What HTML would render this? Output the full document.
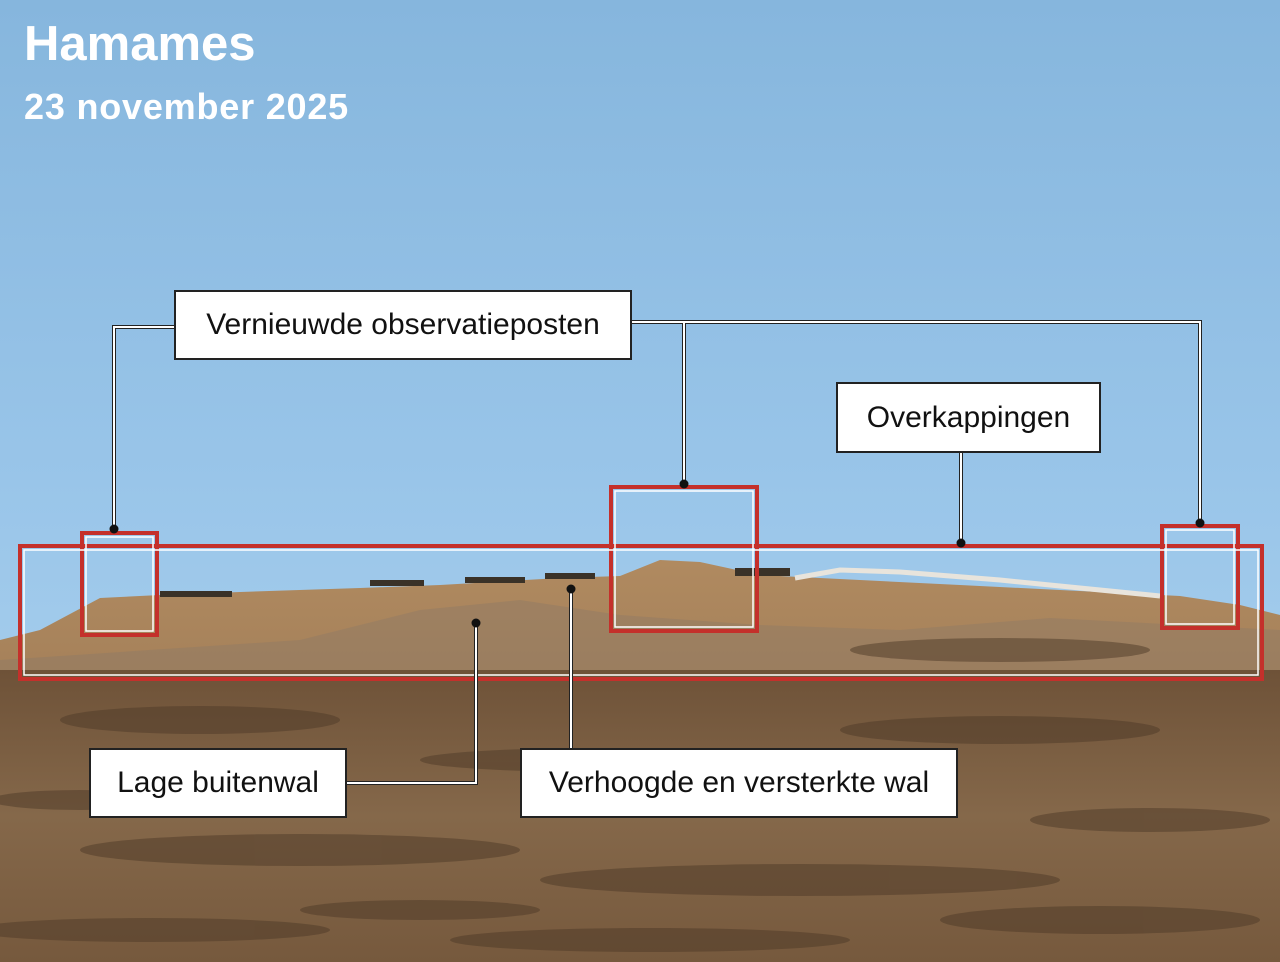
<!DOCTYPE html>
<html><head><meta charset="utf-8"><style>
html,body{margin:0;padding:0;width:1280px;height:962px;overflow:hidden;font-family:"Liberation Sans",sans-serif}
.t1{position:absolute;left:24px;top:16px;color:#fff;font-weight:bold;font-size:49px;letter-spacing:0px}
.t2{position:absolute;left:24px;top:86px;color:#fff;font-weight:bold;font-size:36px;letter-spacing:0.8px}
.lab{position:absolute;background:#fff;border:2px solid #222;box-sizing:border-box;display:flex;align-items:center;justify-content:center;font-size:30px;color:#111}
</style></head><body>
<svg width="1280" height="962" style="position:absolute;left:0;top:0">
<defs>
<linearGradient id="sky" x1="0" y1="0" x2="0" y2="1">
<stop offset="0" stop-color="#86b6dd"/><stop offset="0.5" stop-color="#99c5e9"/><stop offset="1" stop-color="#b2d6f0"/></linearGradient>
<linearGradient id="hill" x1="0" y1="0" x2="0" y2="1">
<stop offset="0" stop-color="#b08a60"/><stop offset="1" stop-color="#8a6a4a"/></linearGradient>
<linearGradient id="gr" x1="0" y1="0" x2="0" y2="1">
<stop offset="0" stop-color="#6e5238"/><stop offset="0.5" stop-color="#85684a"/><stop offset="1" stop-color="#76593d"/></linearGradient>
</defs>
<rect width="1280" height="962" fill="url(#sky)"/>
<path d="M0 640 L40 630 L100 598 L160 595 L240 592 L360 588 L440 585 L560 578 L620 576 L660 560 L700 562 L760 575 L860 580 L960 585 L1060 590 L1180 596 L1240 605 L1280 615 L1280 962 L0 962Z" fill="url(#hill)"/>
<path d="M300 640 L420 610 L520 600 L620 615 L760 625 L900 630 L1050 618 L1280 630 L1280 680 L0 680 L0 660Z" fill="#8e7a66" opacity="0.45"/>
<rect x="0" y="670" width="1280" height="292" fill="url(#gr)"/>
<g fill="#4e3a28" opacity="0.5">
<ellipse cx="200" cy="720" rx="140" ry="14"/><ellipse cx="600" cy="760" rx="180" ry="12"/><ellipse cx="1000" cy="730" rx="160" ry="14"/>
<ellipse cx="300" cy="850" rx="220" ry="16"/><ellipse cx="800" cy="880" rx="260" ry="16"/><ellipse cx="1150" cy="820" rx="120" ry="12"/>
<ellipse cx="150" cy="930" rx="180" ry="12"/><ellipse cx="650" cy="940" rx="200" ry="12"/><ellipse cx="1100" cy="920" rx="160" ry="14"/>
<ellipse cx="1000" cy="650" rx="150" ry="12"/><ellipse cx="80" cy="800" rx="90" ry="10"/><ellipse cx="420" cy="910" rx="120" ry="10"/>
</g>
<g fill="#3a3228"><rect x="160" y="591" width="72" height="6"/><rect x="370" y="580" width="54" height="6"/><rect x="465" y="577" width="60" height="6"/><rect x="545" y="573" width="50" height="6"/><rect x="735" y="568" width="55" height="8"/></g>
<path d="M795 578 L840 570 L900 572 L1000 580 L1100 590 L1160 596" stroke="#e8e4dc" stroke-width="5" fill="none"/>
<g fill="none" stroke="#c4302b" stroke-width="4">
<rect x="20" y="546" width="1242" height="133"/><rect x="82" y="533" width="75" height="102"/><rect x="611" y="487" width="146" height="144"/><rect x="1162" y="526" width="76" height="102"/></g>
<g fill="none" stroke="#fff" stroke-width="1.5">
<rect x="24" y="550" width="1234" height="125"/><rect x="86" y="537" width="67" height="94"/><rect x="615" y="491" width="138" height="136"/><rect x="1166" y="530" width="68" height="94"/></g>
<g fill="none" stroke-linejoin="miter">
<g stroke="#222" stroke-width="4"><path d="M174 327 H114 V529"/><path d="M632 322 H1200 V523"/><path d="M684 322 V484"/><path d="M961 453 V543"/><path d="M347 783 H476 V623"/><path d="M571 748 V589"/></g>
<g stroke="#fff" stroke-width="2"><path d="M174 327 H114 V529"/><path d="M632 322 H1200 V523"/><path d="M684 322 V484"/><path d="M961 453 V543"/><path d="M347 783 H476 V623"/><path d="M571 748 V589"/></g>
</g>
<g fill="#111"><circle cx="114" cy="529" r="4.5"/><circle cx="1200" cy="523" r="4.5"/><circle cx="684" cy="484" r="4.5"/><circle cx="961" cy="543" r="4.5"/><circle cx="476" cy="623" r="4.5"/><circle cx="571" cy="589" r="4.5"/></g>
</svg>
<div class="t1">Hamames</div>
<div class="t2">23 november 2025</div>
<div class="lab" style="left:174px;top:290px;width:458px;height:70px">Vernieuwde observatieposten</div>
<div class="lab" style="left:836px;top:382px;width:265px;height:71px">Overkappingen</div>
<div class="lab" style="left:89px;top:748px;width:258px;height:70px">Lage buitenwal</div>
<div class="lab" style="left:520px;top:748px;width:438px;height:70px">Verhoogde en versterkte wal</div>
</body></html>
